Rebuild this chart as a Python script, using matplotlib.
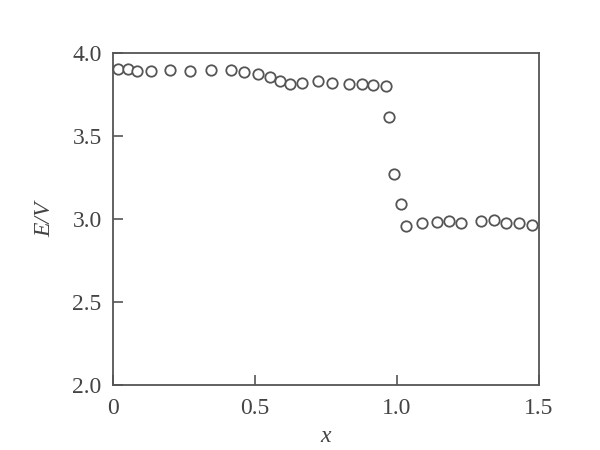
import matplotlib
matplotlib.use("Agg")
import matplotlib.pyplot as plt

plt.rcParams['font.family'] = ['Liberation Serif', 'DejaVu Serif']

x = [0.018, 0.053, 0.085, 0.134, 0.201, 0.271, 0.345, 0.415, 0.461, 0.511,
     0.553, 0.588, 0.623, 0.665, 0.722, 0.771, 0.831, 0.877, 0.915, 0.961,
     0.972, 0.989, 1.014, 1.034, 1.087, 1.140, 1.183, 1.225, 1.298, 1.343,
     1.386, 1.430, 1.477]
E = [3.904, 3.904, 3.892, 3.892, 3.898, 3.892, 3.900, 3.900, 3.884, 3.873,
     3.854, 3.833, 3.813, 3.817, 3.830, 3.820, 3.813, 3.813, 3.805, 3.800,
     3.614, 3.271, 3.092, 2.959, 2.974, 2.980, 2.986, 2.978, 2.990, 2.994,
     2.978, 2.978, 2.966]

xticks = [0, 0.5, 1.0, 1.5]
xtick_labels = ['0', '0.5', '1.0', '1.5']
yticks = [2.0, 2.5, 3.0, 3.5, 4.0]
ytick_labels = ['2.0', '2.5', '3.0', '3.5', '4.0']

fig = plt.figure(figsize=(6, 4.5), dpi=100)
ax = fig.add_axes([0.188, 0.144, 0.710, 0.738])

ax.plot(x, E, linestyle='none', marker='o', markersize=7.5,
        markerfacecolor='white', markeredgecolor='#555555', markeredgewidth=1.3,
        clip_on=False)

ax.set_xlim(0, 1.5)
ax.set_ylim(2.0, 4.0)
ax.set_xticks(xticks)
ax.set_xticklabels(xtick_labels)
ax.set_yticks(yticks)
ax.set_yticklabels(ytick_labels)
ax.tick_params(direction='in', length=7, width=1.2, color='#555555',
               labelsize=17, labelcolor='#444444')
ax.tick_params(axis='x', pad=9)
ax.tick_params(axis='y', pad=8)

for s in ax.spines.values():
    s.set_color('#555555')
    s.set_linewidth(1.3)

ax.set_xlabel('x', fontsize=17, fontstyle='italic', color='#444444', labelpad=5)
ax.set_ylabel('E/V', fontsize=17, fontstyle='italic', color='#444444', labelpad=12)

fig.savefig('out.png', dpi=100)
